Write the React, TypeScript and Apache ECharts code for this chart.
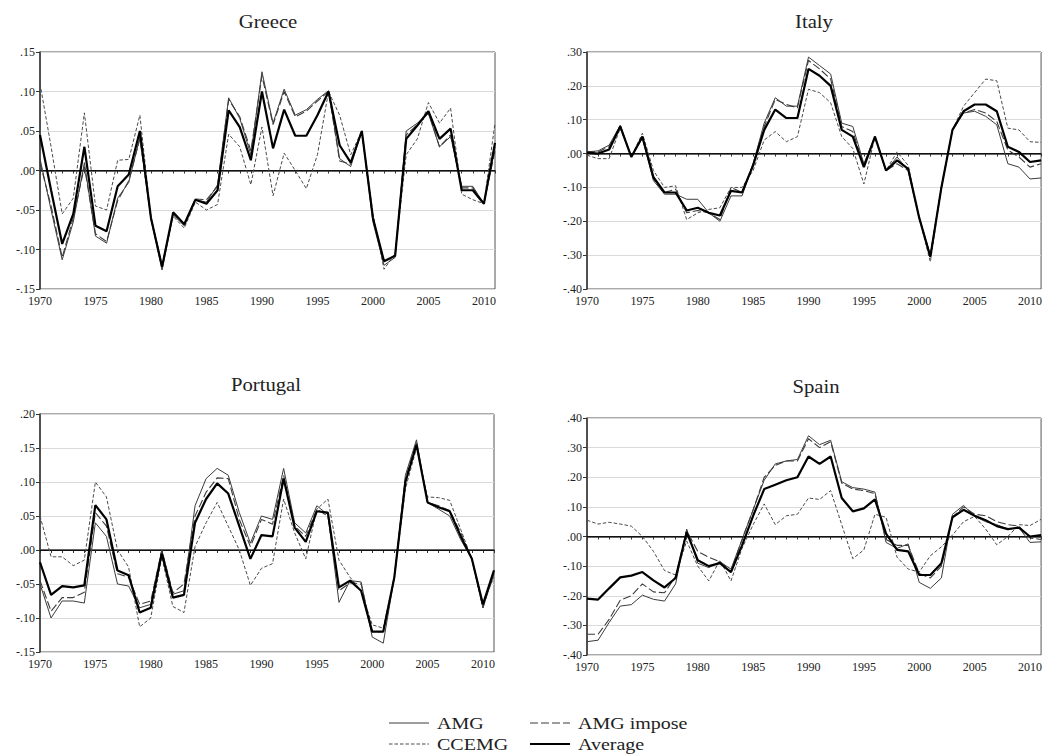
import React, { useEffect, useRef } from "react";
import * as echarts from "echarts";

const years = Array.from({ length: 42 }, (_, i) => String(1970 + i));

const greeceAMG = [0.015, -0.05, -0.113, -0.065, 0.01, -0.083, -0.092, -0.035, -0.015, 0.042, -0.062, -0.126, -0.056, -0.07, -0.037, -0.04, -0.018, 0.092, 0.066, 0.02, 0.125, 0.06, 0.103, 0.07, 0.077, 0.09, 0.101, 0.015, 0.005, 0.05, -0.065, -0.12, -0.11, 0.05, 0.06, 0.072, 0.03, 0.043, -0.02, -0.02, -0.042, 0.03];
const greeceImpose = [0.01, -0.045, -0.11, -0.06, 0.005, -0.08, -0.09, -0.038, -0.013, 0.04, -0.06, -0.12, -0.055, -0.068, -0.036, -0.037, -0.02, 0.09, 0.068, 0.025, 0.12, 0.058, 0.1, 0.068, 0.075, 0.088, 0.1, 0.012, 0.008, 0.05, -0.062, -0.115, -0.108, 0.045, 0.058, 0.074, 0.03, 0.045, -0.022, -0.022, -0.042, 0.025];
const greeceCCEMG = [0.11, 0.03, -0.055, -0.035, 0.073, -0.045, -0.05, 0.013, 0.014, 0.07, -0.06, -0.12, -0.058, -0.073, -0.04, -0.05, -0.043, 0.046, 0.03, -0.018, 0.055, -0.032, 0.022, 0.0, -0.023, 0.02, 0.1, 0.07, 0.02, 0.05, -0.055, -0.125, -0.105, 0.02, 0.04, 0.086, 0.06, 0.079, -0.03, -0.037, -0.042, 0.06];
const greeceAvg = [0.045, -0.025, -0.093, -0.055, 0.03, -0.07, -0.077, -0.02, -0.005, 0.05, -0.06, -0.122, -0.053, -0.068, -0.037, -0.042, -0.025, 0.076, 0.055, 0.013, 0.1, 0.028, 0.077, 0.044, 0.044, 0.07, 0.1, 0.032, 0.01, 0.05, -0.06, -0.115, -0.108, 0.04, 0.057, 0.075, 0.04, 0.053, -0.025, -0.025, -0.042, 0.035];

const italyAMG = [0.005, 0.008, 0.025, 0.083, -0.01, 0.045, -0.08, -0.12, -0.12, -0.135, -0.135, -0.175, -0.2, -0.125, -0.125, -0.03, 0.09, 0.165, 0.14, 0.14, 0.285, 0.26, 0.235, 0.09, 0.08, -0.03, 0.05, -0.05, -0.01, -0.05, -0.19, -0.3, -0.1, 0.07, 0.12, 0.125, 0.11, 0.085, -0.03, -0.04, -0.075, -0.072];
const italyImpose = [0.005, 0.005, 0.02, 0.083, -0.01, 0.05, -0.075, -0.115, -0.105, -0.175, -0.168, -0.175, -0.195, -0.1, -0.115, -0.03, 0.08, 0.16, 0.145, 0.135, 0.275, 0.25, 0.22, 0.08, 0.065, -0.035, 0.05, -0.05, -0.03, -0.05, -0.19, -0.3, -0.1, 0.07, 0.12, 0.13, 0.12, 0.095, 0.01, -0.01, -0.04, -0.03];
const italyCCEMG = [-0.005, -0.015, -0.015, 0.075, -0.01, 0.06, -0.05, -0.1, -0.095, -0.195, -0.175, -0.165, -0.16, -0.1, -0.1, -0.05, 0.04, 0.065, 0.035, 0.05, 0.19, 0.18, 0.15, 0.05, 0.015, -0.09, 0.05, -0.05, 0.005, -0.035, -0.19, -0.32, -0.1, 0.07, 0.14, 0.18, 0.22, 0.215, 0.075, 0.07, 0.035, 0.033];
const italyAvg = [0.003, 0.0, 0.012, 0.08, -0.01, 0.05, -0.07, -0.115, -0.115, -0.168, -0.16, -0.175, -0.183, -0.11, -0.115, -0.035, 0.07, 0.13, 0.105, 0.105, 0.25, 0.23, 0.2, 0.07, 0.05, -0.04, 0.05, -0.05, -0.02, -0.045, -0.19, -0.305, -0.1, 0.07, 0.125, 0.145, 0.145, 0.125, 0.02, 0.005, -0.025, -0.02];

const portugalAMG = [-0.05, -0.1, -0.075, -0.075, -0.078, 0.04, 0.02, -0.05, -0.053, -0.085, -0.08, 0.0, -0.065, -0.06, 0.065, 0.105, 0.12, 0.11, 0.055, 0.01, 0.05, 0.045, 0.12, 0.04, 0.025, 0.065, 0.052, -0.077, -0.045, -0.047, -0.128, -0.137, -0.04, 0.11, 0.162, 0.07, 0.06, 0.05, 0.015, -0.013, -0.085, -0.035];
const portugalImpose = [-0.045, -0.09, -0.07, -0.07, -0.062, 0.055, 0.035, -0.035, -0.04, -0.08, -0.075, 0.0, -0.063, -0.05, 0.05, 0.085, 0.106, 0.105, 0.045, 0.005, 0.045, 0.038, 0.11, 0.035, 0.02, 0.06, 0.05, -0.06, -0.048, -0.05, -0.12, -0.12, -0.04, 0.105, 0.158, 0.07, 0.065, 0.058, 0.025, -0.013, -0.085, -0.03];
const portugalCCEMG = [0.05, -0.01, -0.01, -0.023, -0.015, 0.1, 0.078, 0.0, -0.025, -0.113, -0.1, -0.01, -0.083, -0.092, 0.005, 0.04, 0.07, 0.035, 0.0, -0.052, -0.027, -0.02, 0.075, 0.025, -0.013, 0.06, 0.075, -0.015, -0.04, -0.06, -0.11, -0.115, -0.04, 0.09, 0.15, 0.078, 0.077, 0.073, 0.03, -0.013, -0.078, -0.04];
const portugalAvg = [-0.018, -0.066, -0.053, -0.055, -0.052, 0.066, 0.045, -0.03, -0.037, -0.092, -0.085, -0.005, -0.07, -0.066, 0.04, 0.075, 0.098, 0.083, 0.035, -0.013, 0.022, 0.02, 0.105, 0.033, 0.012, 0.057, 0.055, -0.055, -0.045, -0.06, -0.12, -0.12, -0.04, 0.1, 0.155, 0.07, 0.063, 0.057, 0.02, -0.013, -0.08, -0.03];

const spainAMG = [-0.355, -0.35, -0.29, -0.235, -0.23, -0.198, -0.212, -0.218, -0.16, 0.025, -0.09, -0.105, -0.085, -0.11, -0.01, 0.09, 0.19, 0.245, 0.255, 0.26, 0.34, 0.31, 0.325, 0.185, 0.165, 0.16, 0.15, -0.02, -0.04, -0.025, -0.155, -0.175, -0.14, 0.075, 0.105, 0.068, 0.05, 0.04, 0.025, 0.03, -0.02, -0.018];
const spainImpose = [-0.33, -0.33, -0.28, -0.215, -0.2, -0.16, -0.187, -0.19, -0.135, 0.02, -0.05, -0.07, -0.085, -0.12, -0.01, 0.09, 0.2, 0.24, 0.255, 0.255, 0.33, 0.3, 0.32, 0.18, 0.16, 0.155, 0.145, -0.01, -0.03, -0.03, -0.125, -0.14, -0.1, 0.065, 0.1, 0.075, 0.07, 0.05, 0.04, 0.035, -0.005, -0.01];
const spainCCEMG = [0.055, 0.042, 0.048, 0.042, 0.035, 0.0, -0.05, -0.115, -0.13, -0.015, -0.1, -0.15, -0.08, -0.15, -0.04, 0.04, 0.11, 0.04, 0.07, 0.075, 0.13, 0.125, 0.155, 0.04, -0.075, -0.045, 0.075, 0.065, -0.07, -0.11, -0.12, -0.065, -0.035, 0.005, 0.05, 0.068, 0.025, -0.028, 0.0, 0.04, 0.037, 0.058];
const spainAvg = [-0.21, -0.213, -0.175, -0.138, -0.132, -0.12, -0.148, -0.172, -0.14, 0.015, -0.08, -0.1, -0.09, -0.12, -0.03, 0.07, 0.16, 0.175, 0.19, 0.2, 0.27, 0.245, 0.27, 0.13, 0.085, 0.095, 0.125, 0.01, -0.045, -0.05, -0.13, -0.13, -0.09, 0.065, 0.09, 0.07, 0.055, 0.035, 0.025, 0.03, 0.0, 0.005];

const countries = ["Greece", "Italy", "Portugal", "Spain"];
const seriesNames = ["AMG", "AMG impose", "CCEMG", "Average"];
const countryData = [
  [greeceAMG, greeceImpose, greeceCCEMG, greeceAvg],
  [italyAMG, italyImpose, italyCCEMG, italyAvg],
  [portugalAMG, portugalImpose, portugalCCEMG, portugalAvg],
  [spainAMG, spainImpose, spainCCEMG, spainAvg],
];
const yMin = [-0.15, -0.4, -0.15, -0.4];
const yMax = [0.15, 0.3, 0.2, 0.4];
const yStep = [0.05, 0.1, 0.05, 0.1];

const grids = [
  { left: 40, top: 52, width: 455, height: 237 },
  { left: 587, top: 52, width: 455, height: 237 },
  { left: 40, top: 414, width: 454, height: 238 },
  { left: 587, top: 418, width: 455, height: 237 },
];
const titlePos = [
  [268, 22],
  [814, 22],
  [266, 385],
  [816, 387],
];

const SERIF = '"Liberation Serif", "Times New Roman", serif';
const styles: any = {
  AMG: { color: "#3c3c3c", width: 1, type: "solid" },
  "AMG impose": { color: "#3c3c3c", width: 1.1, type: [8, 3] },
  CCEMG: { color: "#4a4a4a", width: 1, type: [3.5, 2] },
  Average: { color: "#000000", width: 2.2, type: "solid" },
};

const fmt = (v: number) => v.toFixed(2).replace(/^(-?)0\./, "$1.");

export default function App() {
  const ref = useRef<HTMLDivElement>(null);
  useEffect(() => {
    if (!ref.current) return;
    const chart = echarts.init(ref.current, undefined, { renderer: "svg" });
    const series: any[] = [];
    countries.forEach((c, gi) => {
      const order = [2, 1, 0, 3];
      order.forEach((si) => {
        const name = seriesNames[si];
        const st = styles[name];
        const s: any = {
          name,
          type: "line",
          xAxisIndex: gi,
          yAxisIndex: gi,
          data: countryData[gi][si],
          symbol: "none",
          lineStyle: { color: st.color, width: st.width, type: st.type },
          itemStyle: { color: st.color },
          z: si === 3 ? 5 : 3,
        };
        if (si === 3) {
          s.markLine = {
            silent: true,
            symbol: ["none", "none"],
            label: { show: false },
            lineStyle: { color: "#111", width: 1, type: "solid" },
            data: [{ yAxis: 0 }],
            z: 1,
          };
        }
        series.push(s);
      });
    });

    const graphic: any[] = [];
    countries.forEach((c, i) => {
      graphic.push({
        type: "text",
        x: titlePos[i][0],
        y: titlePos[i][1],
        scaleX: 1.15,
        style: {
          text: c,
          fontSize: 18,
          fontFamily: SERIF,
          fontWeight: "normal",
          fill: "#222",
          align: "center",
          verticalAlign: "middle",
        },
      });
    });
    const legendItems = [
      { name: "AMG", x: 389, y: 723 },
      { name: "AMG impose", x: 530, y: 723 },
      { name: "CCEMG", x: 389, y: 744 },
      { name: "Average", x: 530, y: 744 },
    ];
    legendItems.forEach((it) => {
      const st = styles[it.name];
      graphic.push({
        type: "line",
        shape: { x1: it.x, y1: it.y, x2: it.x + 40, y2: it.y },
        style: {
          stroke: st.color,
          lineWidth: st.width,
          lineDash: Array.isArray(st.type) ? st.type : null,
        },
      });
      graphic.push({
        type: "text",
        x: it.x + 48,
        y: it.y + 1,
        scaleX: 1.25,
        style: {
          text: it.name,
          fontSize: 16,
          fontFamily: SERIF,
          fontWeight: "normal",
          fill: "#222",
          align: "left",
          verticalAlign: "middle",
        },
      });
    });

    chart.setOption({
      animation: false,
      backgroundColor: "#ffffff",
      grid: grids.map((g) => ({
        ...g,
        show: true,
        borderColor: "#555",
        borderWidth: 1,
        backgroundColor: "transparent",
        containLabel: false,
      })),
      xAxis: grids.map((g, i) => ({
        type: "category",
        gridIndex: i,
        data: years,
        boundaryGap: false,
        axisLine: { show: true, lineStyle: { color: "#333", width: 1.5 } },
        axisTick: {
          show: true,
          interval: 0,
          length: 3,
          lineStyle: { color: "#333" },
        },
        axisLabel: {
          interval: (idx: number) => idx % 5 === 0,
          color: "#222",
          fontFamily: SERIF,
          fontSize: 12,
          margin: 6,
        },
        splitLine: { show: false },
      })),
      yAxis: grids.map((g, i) => ({
        type: "value",
        gridIndex: i,
        min: yMin[i],
        max: yMax[i],
        interval: yStep[i],
        axisLine: { show: true, lineStyle: { color: "#333", width: 1.5 } },
        axisTick: { show: true, length: 4, lineStyle: { color: "#333" } },
        axisLabel: {
          formatter: fmt,
          color: "#222",
          fontFamily: SERIF,
          fontSize: 12,
          margin: 5,
        },
        splitLine: { show: true, lineStyle: { color: "#dadada", width: 1 } },
      })),
      series,
      graphic,
    });
    return () => chart.dispose();
  }, []);
  return (
    <div
      ref={ref}
      style={{ position: "absolute", left: 0, top: 0, width: 1045, height: 756 }}
    />
  );
}
